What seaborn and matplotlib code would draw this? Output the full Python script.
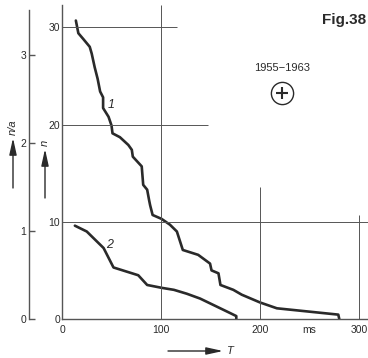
import matplotlib
matplotlib.use('Agg')
import matplotlib.pyplot as plt
import seaborn as sns
import pandas as pd

# Curve 1: n (number of events) against duration T [ms]
t_curve1 = [14, 16.5, 21.5, 28, 30, 33, 36, 38.5, 41.5, 41.5, 47, 50, 51, 58.5, 67, 70.5,
            71.5, 80.5, 82, 86, 88, 89, 91.5, 100.5, 109, 116, 122, 137.5, 149.5, 151,
            158, 160, 173, 181.5, 200, 217, 279, 280]
n_curve1 = [30.7, 29.4, 28.8, 28.0, 27.3, 25.9, 24.7, 23.4, 22.8, 21.7, 20.8, 19.9, 19.1,
            18.7, 17.9, 17.4, 16.7, 15.7, 13.8, 13.3, 12.2, 11.7, 10.7, 10.3, 9.7, 9.0,
            7.1, 6.6, 5.7, 5.0, 4.7, 3.5, 3.0, 2.5, 1.7, 1.1, 0.45, 0]

# Curve 2
t_curve2 = [13, 25, 42, 52, 77, 86, 101, 113, 126, 139.5, 170, 176, 176]
n_curve2 = [9.6, 9.0, 7.3, 5.3, 4.5, 3.5, 3.2, 3.0, 2.6, 2.1, 0.6, 0.3, 0]

x_ticks = [0, 100, 200, 250, 300]
x_tick_labels = ['0', '100', '200', 'ms', '300']
n_ticks = [0, 10, 20, 30]
na_ticks = [0, 1, 2, 3]

ink = '#2a2a2a'
grid_c = '#555555'

sns.set_style('ticks')
plt.rcParams['font.family'] = ['Liberation Sans', 'DejaVu Sans']

W, H = 368, 358
fig = plt.figure(figsize=(W / 100, H / 100), dpi=100)


def fx(px):
    return px / W


def fy(py):
    return 1 - py / H


# main axes
ax = fig.add_axes([fx(62), fy(319), (W - 62) / W, (319 - 5) / H])
ax.set_xlim(0, 309)
ax.set_ylim(0, 32.3)

df1 = pd.DataFrame({'T': t_curve1, 'n': n_curve1})
df2 = pd.DataFrame({'T': t_curve2, 'n': n_curve2})
sns.lineplot(data=df1, x='T', y='n', sort=False, estimator=None, color=ink, lw=1.9, ax=ax)
sns.lineplot(data=df2, x='T', y='n', sort=False, estimator=None, color=ink, lw=1.9, ax=ax)

# partial grid lines as in the original
ax.hlines(30, 0, 116, color=grid_c, lw=0.7)
ax.hlines(20, 0, 147.5, color=grid_c, lw=0.7)
ax.hlines(10, 0, 309, color=grid_c, lw=0.7)
ax.vlines(100, 0, 32.3, color=grid_c, lw=0.7)
ax.vlines(200, 0, 13.6, color=grid_c, lw=0.7)
ax.vlines(300, 0, 10.7, color=grid_c, lw=0.7)

for s in ['top', 'right']:
    ax.spines[s].set_visible(False)
for s in ['left', 'bottom']:
    ax.spines[s].set_color(grid_c)
    ax.spines[s].set_linewidth(1.0)

ax.set_xticks(x_ticks)
ax.set_xticklabels(x_tick_labels)
ax.set_yticks(n_ticks)
ax.tick_params(axis='both', length=0, labelsize=7.5, colors=ink)
ax.tick_params(axis='x', pad=4)
ax.tick_params(axis='y', pad=1.5)
ax.set_xlabel('')
ax.set_ylabel('')
ax.patch.set_alpha(0)

ax.text(50, 22, '1', fontsize=9, style='italic', color=ink, ha='center', va='center')
ax.text(48, 7.6, '2', fontsize=9, style='italic', color=ink, ha='center', va='center')

# n/a axis on the far left
ax2 = fig.add_axes([fx(29), fy(319), 0.02, (319 - 10) / H])
ax2.set_ylim(0, 3.51)
ax2.set_yticks(na_ticks)
ax2.set_xticks([])
for s in ['top', 'right', 'bottom']:
    ax2.spines[s].set_visible(False)
ax2.spines['left'].set_color(grid_c)
ax2.spines['left'].set_linewidth(1.0)
ax2.tick_params(axis='y', direction='in', length=4, width=1, color=grid_c,
                labelsize=7.5, labelcolor=ink, pad=2)
ax2.patch.set_alpha(0)

# axis titles with arrows
arrow = dict(arrowstyle='-|>,head_length=1.0,head_width=0.22', lw=1.0, color=ink,
             mutation_scale=10, shrinkA=0, shrinkB=0)
fig.text(fx(13), fy(127), 'n/a', rotation=90, fontsize=8, style='italic', color=ink,
         ha='center', va='center')
fig.add_artist(matplotlib.patches.FancyArrowPatch((fx(13), fy(188)), (fx(13), fy(138)),
               transform=fig.transFigure, **arrow))
fig.text(fx(45), fy(143), 'n', rotation=90, fontsize=8, style='italic', color=ink,
         ha='center', va='center')
fig.add_artist(matplotlib.patches.FancyArrowPatch((fx(45), fy(198)), (fx(45), fy(149)),
               transform=fig.transFigure, **arrow))
fig.text(fx(230), fy(351), 'T', fontsize=8, style='italic', color=ink,
         ha='center', va='center')
fig.add_artist(matplotlib.patches.FancyArrowPatch((fx(168), fy(351)), (fx(223), fy(351)),
               transform=fig.transFigure, **arrow))

# annotations
fig.text(fx(366), fy(20), 'Fig.38', fontsize=11, fontweight='bold', color=ink,
         ha='right', va='center')
fig.text(fx(282), fy(68), '1955\u22121963', fontsize=8, color=ink, ha='center', va='center')
fig.lines.append(matplotlib.lines.Line2D([fx(282)], [fy(93)], transform=fig.transFigure,
                 marker='o', ms=16, mfc='none', mec=ink, mew=1.0, ls='none'))
fig.lines.append(matplotlib.lines.Line2D([fx(282)], [fy(93)], transform=fig.transFigure,
                 marker='+', ms=8, mec=ink, mew=1.5, ls='none'))

fig.savefig('out.png', dpi=100, facecolor='white')
